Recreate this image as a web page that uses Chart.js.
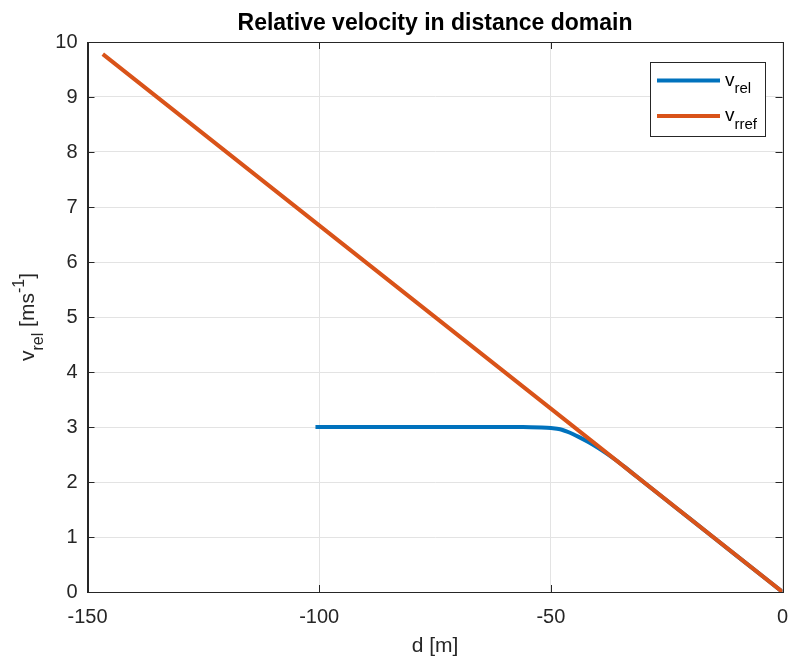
<!DOCTYPE html>
<html>
<head>
<meta charset="utf-8">
<script src="https://cdn.jsdelivr.net/npm/chart.js@4/dist/chart.umd.min.js"></script>
<style>
html,body{margin:0;padding:0;background:#fff;}
#wrap{width:789px;height:662px;}
</style>
</head>
<body>
<div id="wrap"><canvas id="c" width="789" height="662"></canvas></div>
<script>
// ---- data ----
const relD = [-100.8, -90, -80, -70, -60, -56, -52, -50, -48, -46, -44, -42, -40, -38, -36, -34, -32, -30, -20, -10, 0];
const relV = [3.0, 3.0, 3.0, 3.0, 3.0, 3.0, 2.99, 2.98, 2.96, 2.90, 2.82, 2.73, 2.63, 2.52, 2.40, 2.27, 2.135, 2.0, 1.333, 0.667, 0];
const refD = [-146.7, -100, -50, 0];
const refV = [9.78, 6.667, 3.333, 0];
const xTicks = [-150, -100, -50, 0];
const yTicks = [0, 1, 2, 3, 4, 5, 6, 7, 8, 9, 10];
const titleText = 'Relative velocity in distance domain';
const xLabel = 'd [m]';
const seriesNames = [['v', 'rel'], ['v', 'rref']];

const BLUE = '#0072BD', ORANGE = '#D95319', AX = '#262626', GRID = '#e3e3e3';
const FONT = '"Liberation Sans", Arial, Helvetica, sans-serif';

const toPts = (xs, ys) => xs.map((x, i) => ({x: x, y: ys[i]}));

const overlay = {
  id: 'overlay',
  afterDraw(chart) {
    const ctx = chart.ctx, a = chart.chartArea;
    const xs = chart.scales.x, ys = chart.scales.y;
    ctx.save();
    // box
    ctx.strokeStyle = AX; ctx.lineWidth = 1;
    ctx.strokeRect(Math.round(a.left) + 0.5, Math.round(a.top) + 0.5, Math.round(a.right - a.left), Math.round(a.bottom - a.top));
    // inward ticks
    const TL = 7;
    ctx.beginPath();
    xTicks.forEach(v => {
      const p = Math.round(xs.getPixelForValue(v)) + 0.5;
      ctx.moveTo(p, a.bottom); ctx.lineTo(p, a.bottom - TL);
      ctx.moveTo(p, a.top); ctx.lineTo(p, a.top + TL);
    });
    yTicks.forEach(v => {
      const p = Math.round(ys.getPixelForValue(v)) + 0.5;
      ctx.moveTo(a.left, p); ctx.lineTo(a.left + TL, p);
      ctx.moveTo(a.right, p); ctx.lineTo(a.right - TL, p);
    });
    ctx.stroke();

    // title
    ctx.fillStyle = '#000';
    ctx.font = 'bold 23px ' + FONT;
    ctx.textAlign = 'center'; ctx.textBaseline = 'alphabetic';
    ctx.fillText(titleText, (a.left + a.right) / 2, 30);

    // x label
    ctx.fillStyle = AX;
    ctx.font = '21px ' + FONT;
    ctx.fillText(xLabel, (a.left + a.right) / 2, 652);

    // y label rotated: v_rel [ms^-1]
    ctx.save();
    ctx.translate(34, (a.top + a.bottom) / 2);
    ctx.rotate(-Math.PI / 2);
    const parts = [
      {t: 'v', f: '21px ', dy: 0},
      {t: 'rel', f: '16px ', dy: 9},
      {t: ' [ms', f: '21px ', dy: 0},
      {t: '-1', f: '16px ', dy: -10},
      {t: ']', f: '21px ', dy: 0}
    ];
    let w = 0;
    parts.forEach(p => { ctx.font = p.f + FONT; p.w = ctx.measureText(p.t).width; w += p.w; });
    let x0 = -w / 2;
    ctx.textAlign = 'left'; ctx.textBaseline = 'alphabetic';
    parts.forEach(p => { ctx.font = p.f + FONT; ctx.fillText(p.t, x0, p.dy); x0 += p.w; });
    ctx.restore();

    // legend
    const lx = 650.5, ly = 62.5, lw = 115, lh = 74;
    ctx.fillStyle = '#fff';
    ctx.fillRect(lx, ly, lw, lh);
    ctx.strokeStyle = AX; ctx.lineWidth = 1;
    ctx.strokeRect(lx, ly, lw, lh);
    const cols = [BLUE, ORANGE];
    const rowY = [80.5, 116];
    seriesNames.forEach((n, i) => {
      ctx.strokeStyle = cols[i]; ctx.lineWidth = 4; ctx.lineCap = 'butt';
      ctx.beginPath(); ctx.moveTo(657, rowY[i]); ctx.lineTo(720, rowY[i]); ctx.stroke();
      ctx.fillStyle = '#000';
      ctx.textAlign = 'left'; ctx.textBaseline = 'alphabetic';
      ctx.font = '19px ' + FONT;
      ctx.fillText(n[0], 725, rowY[i] + 5);
      const vw = ctx.measureText(n[0]).width;
      ctx.font = '15px ' + FONT;
      ctx.fillText(n[1], 725 + vw, rowY[i] + 12.5);
    });
    ctx.restore();
  }
};

new Chart(document.getElementById('c'), {
  type: 'line',
  data: {
    datasets: [
      {label: 'v_rel', data: toPts(relD, relV), borderColor: BLUE, borderWidth: 4, pointRadius: 0, cubicInterpolationMode: 'monotone', order: 2, fill: false},
      {label: 'v_rref', data: toPts(refD, refV), borderColor: ORANGE, borderWidth: 4, pointRadius: 0, tension: 0, order: 1, fill: false}
    ]
  },
  options: {
    responsive: false,
    animation: false,
    devicePixelRatio: 1,
    layout: {padding: {top: 42, right: 6.5, left: 0, bottom: 0}},
    plugins: {legend: {display: false}, title: {display: false}, tooltip: {enabled: false}},
    scales: {
      x: {
        type: 'linear', min: -150, max: 0,
        afterBuildTicks: s => { s.ticks = xTicks.map(v => ({value: v})); },
        afterFit: s => { s.height = 70; s.paddingLeft = 0; s.paddingRight = 0; },
        grid: {color: GRID, drawTicks: false},
        border: {color: AX, width: 1},
        ticks: {color: AX, font: {family: FONT, size: 20}, padding: 13, maxRotation: 0, callback: v => String(v)}
      },
      y: {
        type: 'linear', min: 0, max: 10,
        afterBuildTicks: s => { s.ticks = yTicks.map(v => ({value: v})); },
        afterFit: s => { s.width = 87.5; s.paddingTop = 0; s.paddingBottom = 0; },
        grid: {color: GRID, drawTicks: false},
        border: {color: AX, width: 1},
        ticks: {color: AX, font: {family: FONT, size: 20}, padding: 10, callback: v => String(v)}
      }
    }
  },
  plugins: [overlay]
});
</script>
</body>
</html>
